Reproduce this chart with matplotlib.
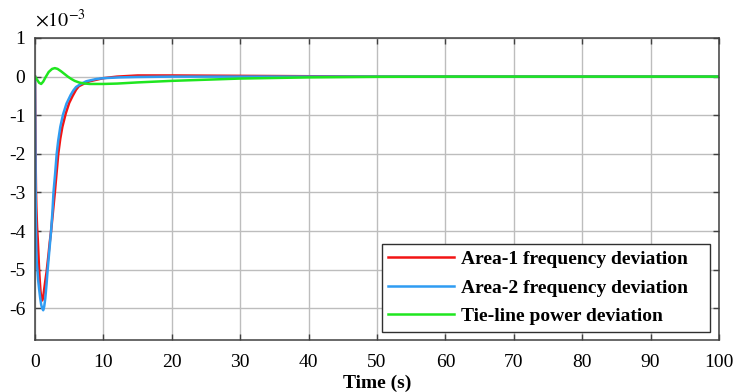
import matplotlib
matplotlib.use("Agg")
import matplotlib.pyplot as plt

plt.rcParams['font.family'] = ['Liberation Serif', 'DejaVu Serif']
plt.rcParams['mathtext.fontset'] = 'stix'

# Time samples (s) and responses (x 1e-3)
t_area1 = [0, 0.05, 0.1, 0.15, 0.2, 0.3, 0.4, 0.5, 0.6, 0.7, 0.8, 0.9, 1.0, 1.1, 1.2, 1.35, 1.5,
           1.7, 1.95, 2.15, 2.35, 2.6, 2.9, 3.15, 3.4, 3.7, 4.0, 4.5, 5.0, 5.5, 6.0, 6.4, 7.3,
           8.0, 9.0, 10, 12, 15, 20, 30, 40, 50, 60, 100]
area1 = [0, -1.2, -2.3, -3.0, -3.4, -3.9, -4.2, -4.6, -5.0, -5.3, -5.55, -5.72, -5.8, -5.78, -5.7,
         -5.5, -5.3, -5.05, -4.65, -4.3, -4.0, -3.55, -3.0, -2.5, -2.0, -1.6, -1.3, -0.95, -0.68,
         -0.5, -0.34, -0.25, -0.17, -0.12, -0.08, -0.04, 0.0, 0.03, 0.03, 0.02, 0.01, 0.0, 0.0, 0.0]

t_area2 = [0, 0.05, 0.1, 0.15, 0.2, 0.25, 0.35, 0.45, 0.6, 0.75, 0.9, 1.05, 1.2, 1.35, 1.5, 1.7,
           1.85, 2.1, 2.35, 2.55, 2.7, 2.95, 3.17, 3.4, 3.7, 4.1, 4.6, 5.2, 5.6, 6.0, 6.6, 7.5,
           9.0, 10, 12.4, 15, 20, 30, 50, 100]
area2 = [0, -1.8, -3.2, -4.0, -4.5, -4.8, -5.0, -5.25, -5.5, -5.72, -5.9, -6.0, -6.05, -5.95,
         -5.75, -5.35, -5.0, -4.5, -4.0, -3.5, -3.0, -2.5, -2.0, -1.65, -1.3, -0.98, -0.7, -0.48,
         -0.36, -0.27, -0.2, -0.12, -0.06, -0.04, -0.02, -0.01, 0.0, 0.0, 0.0, 0.0]

t_tie = [0, 0.3, 0.6, 0.9, 1.2, 1.5, 2.0, 2.5, 2.9, 3.3, 3.8, 4.3, 4.8, 5.3, 5.8, 6.5, 7.3, 8.0,
         10, 12, 15, 20, 25, 30, 35, 40, 50, 60, 100]
tie = [0, -0.08, -0.16, -0.19, -0.13, -0.03, 0.12, 0.2, 0.22, 0.2, 0.14, 0.07, 0.0, -0.06, -0.11,
       -0.155, -0.18, -0.19, -0.19, -0.18, -0.15, -0.11, -0.08, -0.05, -0.035, -0.02, -0.005, 0.0, 0.0]

labels = ['Area-1 frequency deviation', 'Area-2 frequency deviation', 'Tie-line power deviation']
colors = ['#f21414', '#2f9cf2', '#1fe61f']

x_ticks = list(range(0, 101, 10))
y_ticks = list(range(-6, 2))

fig = plt.figure(figsize=(7.37, 3.92), dpi=100)
ax = fig.add_axes([35/737, 1-340/392, 684/737, 302/392])

ax.plot(t_area1, area1, color=colors[0], lw=1.8, label=labels[0])
ax.plot(t_area2, area2, color=colors[1], lw=1.8, label=labels[1])
ax.plot(t_tie, tie, color=colors[2], lw=1.8, label=labels[2])

ax.set_xlim(0, 100)
ax.set_ylim(-6.82, 1)
ax.set_xticks(x_ticks)
ax.set_yticks(y_ticks)
ax.set_xticklabels([str(v) for v in x_ticks])
ax.set_yticklabels([str(v) for v in y_ticks])
ax.grid(True, color='#bdbdbd', lw=1.0)
ax.set_axisbelow(True)
ax.tick_params(direction='in', top=True, right=True, length=4, width=1, color='#404040',
               labelsize=14)
ax.tick_params(axis='x', pad=10)
ax.tick_params(axis='y', pad=7)
for s in ax.spines.values():
    s.set_color('#404040')
    s.set_linewidth(1.1)

ax.set_xlabel('Time (s)', fontsize=14, fontweight='bold', labelpad=3)
ax.text(0.0, 1.02, r'$\times 10^{-3}$', transform=ax.transAxes, fontsize=14.5,
        ha='left', va='bottom')

leg = ax.legend(loc='lower left', bbox_to_anchor=(0.507, 0.0275, 0.48, 0.29), mode='expand',
                fancybox=False, framealpha=1, edgecolor='#303030',
                prop={'size': 14, 'weight': 'bold'},
                handlelength=3.4, handletextpad=0.36, labelspacing=0.56, borderpad=0.33,
                borderaxespad=0)
leg.get_frame().set_linewidth(1.0)

fig.savefig('out.png', dpi=100)
